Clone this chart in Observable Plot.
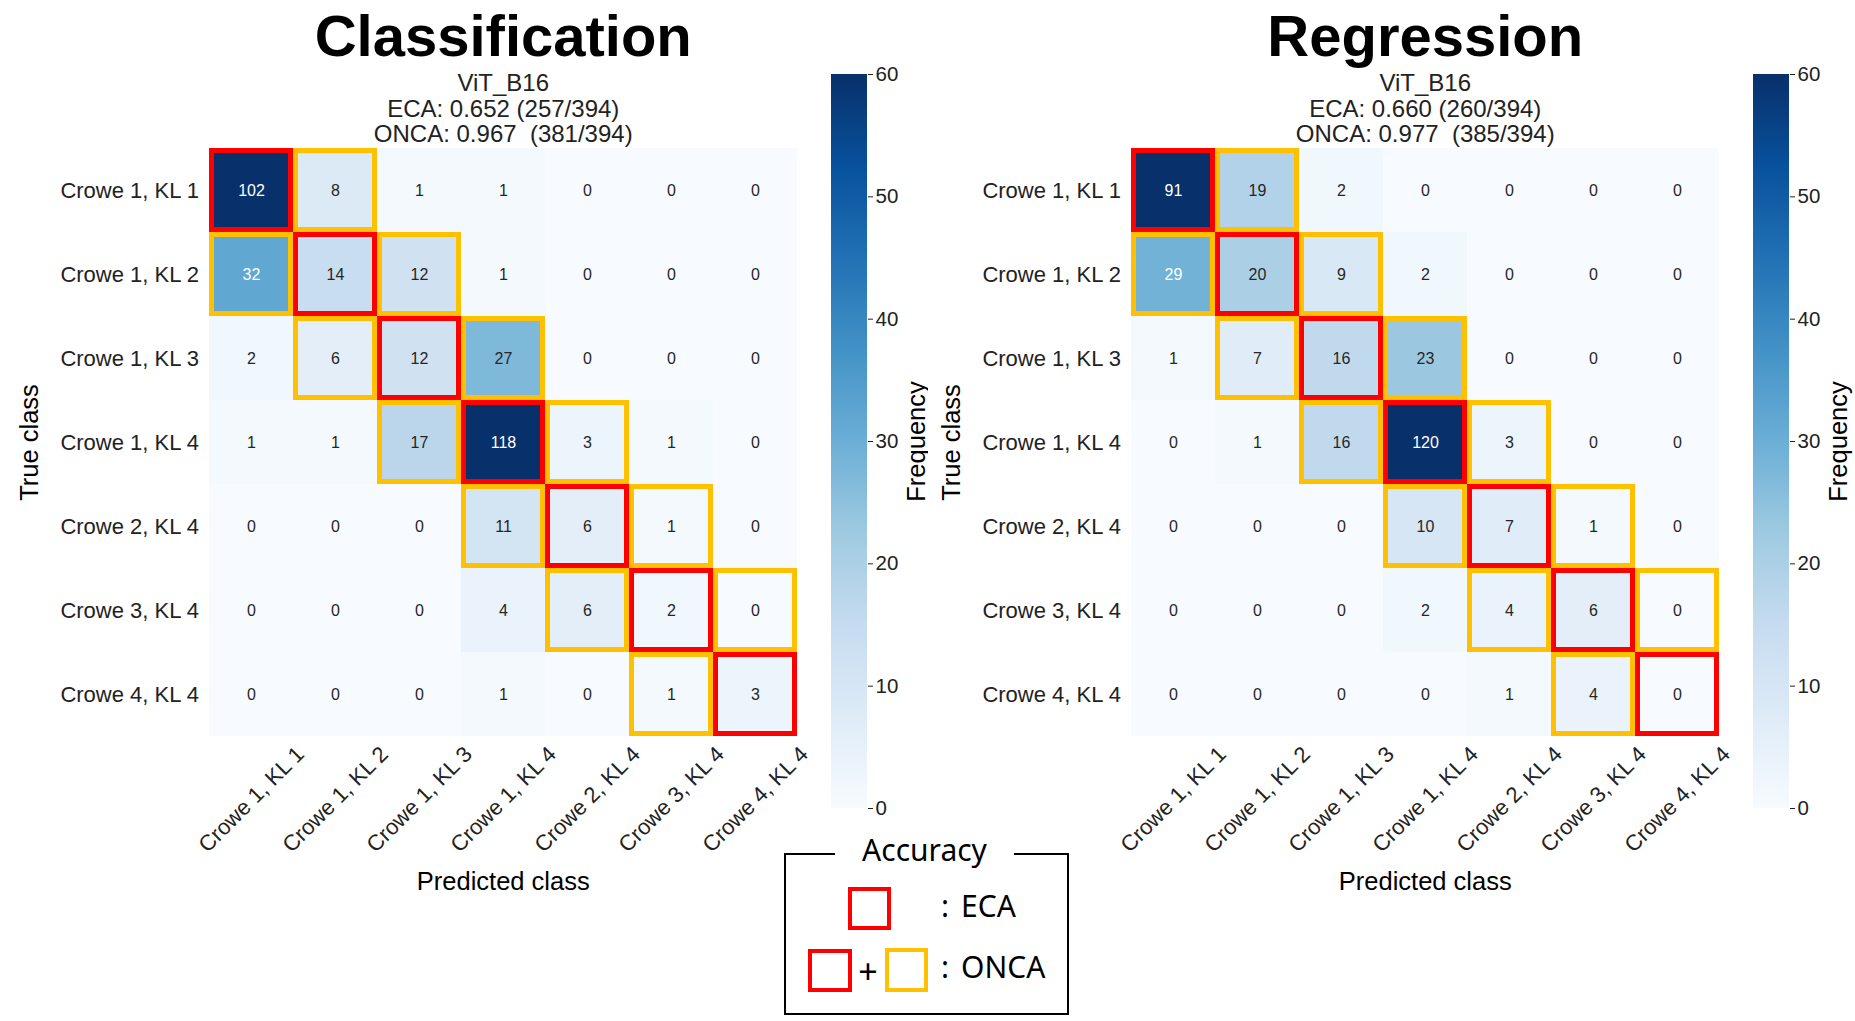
<!DOCTYPE html>
<html>
<head>
<meta charset="utf-8">
<script src="https://cdn.jsdelivr.net/npm/d3@7"></script>
<script src="https://cdn.jsdelivr.net/npm/@observablehq/plot@0.6"></script>
<style>
  html, body { margin: 0; padding: 0; background: #fff; overflow: hidden; }
  #page { position: relative; width: 1855px; height: 1021px; background: #fff; overflow: hidden; }
  .panel { position: absolute; top: 0; height: 1021px; }
  #left { left: 0; width: 928px; overflow: hidden; }
  #right { left: 921.5px; width: 933.5px; overflow: visible; }
  .panel svg { position: absolute; top: 0; }
  #legend { position: absolute; left: 0; top: 0; width: 1855px; height: 1021px; pointer-events: none; font-family: "Noto Sans", "Liberation Sans", sans-serif; color: #000; }
  .lbox { position: absolute; left: 784px; top: 853px; width: 285px; height: 162px; box-sizing: border-box; border: 2px solid #000; }
  .ltitle { position: absolute; left: 835px; width: 179px; top: 835px; height: 30px; line-height: 30px; font-size: 30px; text-align: center; background: #fff; }
  .sq { position: absolute; box-sizing: border-box; border: 4px solid; }
  .red { border-color: #ff0000; }
  .yellow { border-color: #ffc000; }
  .ltext { position: absolute; font-size: 30px; line-height: 30px; height: 30px; white-space: pre; }
</style>
</head>
<body>
<div id="page">
  <div id="left" class="panel"></div>
  <div id="right" class="panel"></div>
  <div id="legend">
    <div class="lbox"></div>
    <div class="ltitle">Accuracy</div>
    <div class="sq red" style="left:848px;top:887px;width:43px;height:43px"></div>
    <div class="ltext" style="left:941px;top:890.5px">:</div>
    <div class="ltext" style="left:961px;top:890.5px">ECA</div>
    <div class="sq red" style="left:808px;top:949px;width:44px;height:43px"></div>
    <div class="ltext" style="left:855px;top:953.8px;width:26px;text-align:center;font-size:34px;line-height:34px;height:34px">+</div>
    <div class="sq yellow" style="left:885px;top:948px;width:43px;height:44px"></div>
    <div class="ltext" style="left:941px;top:952px">:</div>
    <div class="ltext" style="left:961px;top:952px">ONCA</div>
  </div>
</div>
<script>
// ---------- data ----------
const classes = [
  "Crowe 1, KL 1", "Crowe 1, KL 2", "Crowe 1, KL 3", "Crowe 1, KL 4",
  "Crowe 2, KL 4", "Crowe 3, KL 4", "Crowe 4, KL 4"
];
// rows = true class, columns = predicted class
const classificationCounts = [
  [102, 8, 1, 1, 0, 0, 0],
  [32, 14, 12, 1, 0, 0, 0],
  [2, 6, 12, 27, 0, 0, 0],
  [1, 1, 17, 118, 3, 1, 0],
  [0, 0, 0, 11, 6, 1, 0],
  [0, 0, 0, 4, 6, 2, 0],
  [0, 0, 0, 1, 0, 1, 3]
];
const regressionCounts = [
  [91, 19, 2, 0, 0, 0, 0],
  [29, 20, 9, 2, 0, 0, 0],
  [1, 7, 16, 23, 0, 0, 0],
  [0, 1, 16, 120, 3, 0, 0],
  [0, 0, 0, 10, 7, 1, 0],
  [0, 0, 0, 2, 4, 6, 0],
  [0, 0, 0, 0, 1, 4, 0]
];
const classificationSubtitle = ["ViT_B16", "ECA: 0.652 (257/394)", "ONCA: 0.967\u00a0 (381/394)"];
const regressionSubtitle = ["ViT_B16", "ECA: 0.660 (260/394)", "ONCA: 0.977\u00a0 (385/394)"];
const colorbarTicks = [0, 10, 20, 30, 40, 50, 60];
const colorDomain = [0, 60];
// matplotlib "Blues" colormap nodes
const bluesStops = ["#f7fbff", "#deebf7", "#c6dbef", "#9ecae1", "#6baed6", "#4292c6", "#2171b5", "#08519c", "#08306b"];

// ---------- styles ----------
const FONT = "'Liberation Sans', Arial, Helvetica, sans-serif";
const stopDomain = bluesStops.map((_, i) => colorDomain[0] + (colorDomain[1] - colorDomain[0]) * i / (bluesStops.length - 1));
const colorOpts = { type: "linear", domain: stopDomain, range: bluesStops, interpolate: "rgb", clamp: true };
const colorScale = Plot.scale({ color: colorOpts });

function relLum(c) {
  const rgb = d3.rgb(c);
  const f = v => { v /= 255; return v <= 0.03928 ? v / 12.92 : Math.pow((v + 0.055) / 1.055, 2.4); };
  return 0.2126 * f(rgb.r) + 0.7152 * f(rgb.g) + 0.0722 * f(rgb.b);
}
const isDark = v => relLum(colorScale.apply(v)) < 0.408;

const baseStyle = { fontFamily: FONT, fontSize: "22px", color: "#222", background: "transparent", overflow: "visible", maxWidth: "none" };

function panel(containerId, title, subtitle, counts) {
  const rows = [];
  classes.forEach((t, i) => classes.forEach((p, j) => rows.push({ truth: t, pred: p, i, j, value: counts[i][j] })));
  const diag = rows.filter(d => d.i === d.j);
  const near = rows.filter(d => Math.abs(d.i - d.j) === 1);

  const heat = Plot.plot({
    width: 928, height: 1021,
    marginLeft: 207.5, marginRight: 130, marginTop: 148, marginBottom: 285,
    x: { type: "band", domain: classes, padding: 0, label: null },
    y: { type: "band", domain: classes, padding: 0, label: null },
    color: colorOpts,
    style: baseStyle,
    marks: [
      Plot.cell(rows, { x: "pred", y: "truth", fill: "value", inset: 0, shapeRendering: "crispEdges" }),
      Plot.cell(near, { x: "pred", y: "truth", fill: "none", stroke: "#ffc000", strokeWidth: 5, inset: 2.5 }),
      Plot.cell(diag, { x: "pred", y: "truth", fill: "none", stroke: "#ff0000", strokeWidth: 5, inset: 2.5 }),
      Plot.text(rows.filter(d => isDark(d.value)), { x: "pred", y: "truth", text: d => String(d.value), fill: "white", fontSize: 16 }),
      Plot.text(rows.filter(d => !isDark(d.value)), { x: "pred", y: "truth", text: d => String(d.value), fill: "#262626", fontSize: 16 }),
      Plot.axisY({ tickSize: 0, tickPadding: 9, fontSize: 22, label: null }),
      Plot.axisX({ tickRotate: -45, tickSize: 0, tickPadding: 63, textAnchor: "middle", lineAnchor: "middle", fontSize: 22, label: null }),
      Plot.text([title], { text: d => d, frameAnchor: "top", dy: -93, lineAnchor: "bottom", fontSize: 58, fontWeight: "bold", fill: "#000" }),
      Plot.text([subtitle.join("\n")], { text: d => d, frameAnchor: "top", dy: -6.3, lineAnchor: "bottom", lineHeight: 1.06, fontSize: 24, fill: "#222" }),
      Plot.text(["Predicted class"], { text: d => d, frameAnchor: "bottom", dy: 153, lineAnchor: "bottom", fontSize: 25.5, fill: "#000" }),
      Plot.text(["True class"], { text: d => d, frameAnchor: "left", dx: -170.2, rotate: -90, textAnchor: "middle", lineAnchor: "bottom", fontSize: 25.5, fill: "#000" })
    ]
  });
  heat.style.left = "0px";

  const gradId = "cbgrad-" + containerId;
  const cb = Plot.plot({
    width: 130, height: 1021,
    marginLeft: 0, marginRight: 94, marginTop: 74, marginBottom: 213,
    x: { domain: [0, 1], axis: null },
    y: { domain: colorDomain, label: null },
    style: baseStyle,
    marks: [
      Plot.rect([colorDomain], { x1: () => 0, x2: () => 1, y1: d => d[0], y2: d => d[1], fill: `url(#${gradId})` }),
      Plot.axisY(colorbarTicks, { anchor: "right", tickSize: 5, tickPadding: 3, fontSize: 20.5, label: null }),
      Plot.text(["Frequency"], { text: d => d, frameAnchor: "right", dx: 57, rotate: -90, textAnchor: "middle", lineAnchor: "bottom", fontSize: 25.5, fill: "#000" })
    ]
  });
  cb.style.left = "831px";
  const ns = "http://www.w3.org/2000/svg";
  const defs = document.createElementNS(ns, "defs");
  const lg = document.createElementNS(ns, "linearGradient");
  lg.setAttribute("id", gradId);
  lg.setAttribute("x1", "0"); lg.setAttribute("y1", "1");
  lg.setAttribute("x2", "0"); lg.setAttribute("y2", "0");
  stopDomain.forEach(v => {
    const s = document.createElementNS(ns, "stop");
    s.setAttribute("offset", String((v - colorDomain[0]) / (colorDomain[1] - colorDomain[0])));
    s.setAttribute("stop-color", colorScale.apply(v));
    lg.appendChild(s);
  });
  defs.appendChild(lg);
  cb.insertBefore(defs, cb.firstChild);

  const el = document.getElementById(containerId);
  el.appendChild(heat);
  el.appendChild(cb);
}

panel("left", "Classification", classificationSubtitle, classificationCounts);
panel("right", "Regression", regressionSubtitle, regressionCounts);
</script>
</body>
</html>
